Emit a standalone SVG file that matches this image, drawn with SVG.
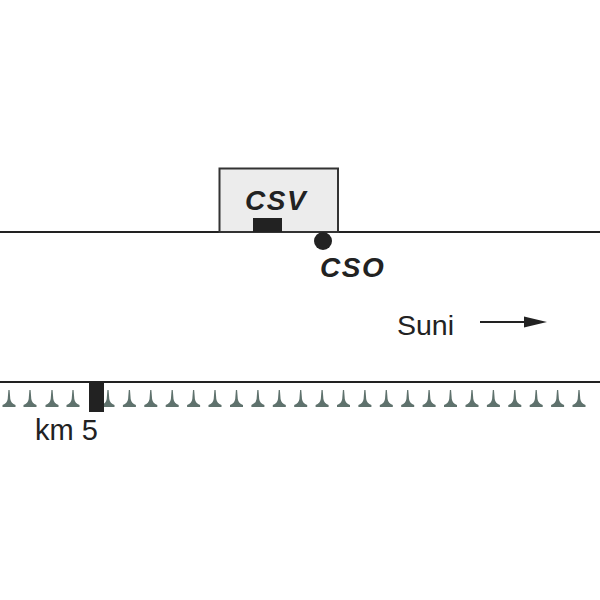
<svg xmlns="http://www.w3.org/2000/svg" width="600" height="600" viewBox="0 0 600 600">
<defs>
<style>
.ln{stroke:#222;stroke-width:1.8;fill:none}
.lbl{font-family:"Liberation Sans",Arial,sans-serif;fill:#222}
.bi{font-weight:bold;font-style:italic;font-size:28px;letter-spacing:1.5px}
.tk{fill:#5f726d}
</style>
<path id="tick" class="tk" d="M-0.6,390 L0.6,390 L1.3,399 Q2,403.5 6.5,405 L6.5,407 L-6.5,407 L-6.5,405 Q-2,403.5 -1.3,399 Z"/>
</defs>
<rect width="600" height="600" fill="#fff"/>
<g id="connectors">
<line class="ln" x1="0" y1="232" x2="600" y2="232"/>
<line class="ln" x1="0" y1="382" x2="600" y2="382"/>
<line x1="480" y1="322" x2="525" y2="322" stroke="#222" stroke-width="2"/>
<path d="M524,316.5 L547,322 L524,327.5 Z" fill="#222"/>
</g>
<g id="csv">
<rect x="219.5" y="168.5" width="118.5" height="63.5" fill="#ececec" stroke="#333" stroke-width="2"/>
<rect x="253" y="218" width="29" height="14" fill="#222"/>
<text class="lbl bi" x="245" y="210">CSV</text>
</g>
<g id="cso">
<circle cx="323" cy="241" r="9" fill="#222"/>
<text class="lbl bi" x="320" y="277">CSO</text>
</g>
<g id="suni">
<text class="lbl" x="397" y="335" font-size="28.5">Suni</text>
</g>
<g id="ticks">
<use href="#tick" x="9"/><use href="#tick" x="30"/><use href="#tick" x="52"/><use href="#tick" x="73"/>
<use href="#tick" x="108"/><use href="#tick" x="129.4"/><use href="#tick" x="150.8"/><use href="#tick" x="172.2"/>
<use href="#tick" x="193.6"/><use href="#tick" x="215"/><use href="#tick" x="236.5"/><use href="#tick" x="257.9"/>
<use href="#tick" x="279.3"/><use href="#tick" x="300.7"/><use href="#tick" x="322.1"/><use href="#tick" x="343.5"/>
<use href="#tick" x="364.9"/><use href="#tick" x="386.3"/><use href="#tick" x="407.7"/><use href="#tick" x="429.1"/>
<use href="#tick" x="450.5"/><use href="#tick" x="472"/><use href="#tick" x="493.4"/><use href="#tick" x="514.8"/>
<use href="#tick" x="536.2"/><use href="#tick" x="557.6"/><use href="#tick" x="579"/>
</g>
<g id="km5">
<rect x="89" y="382" width="15" height="30" fill="#222"/>
<text class="lbl" x="35" y="440" font-size="29">km 5</text>
</g>
</svg>
